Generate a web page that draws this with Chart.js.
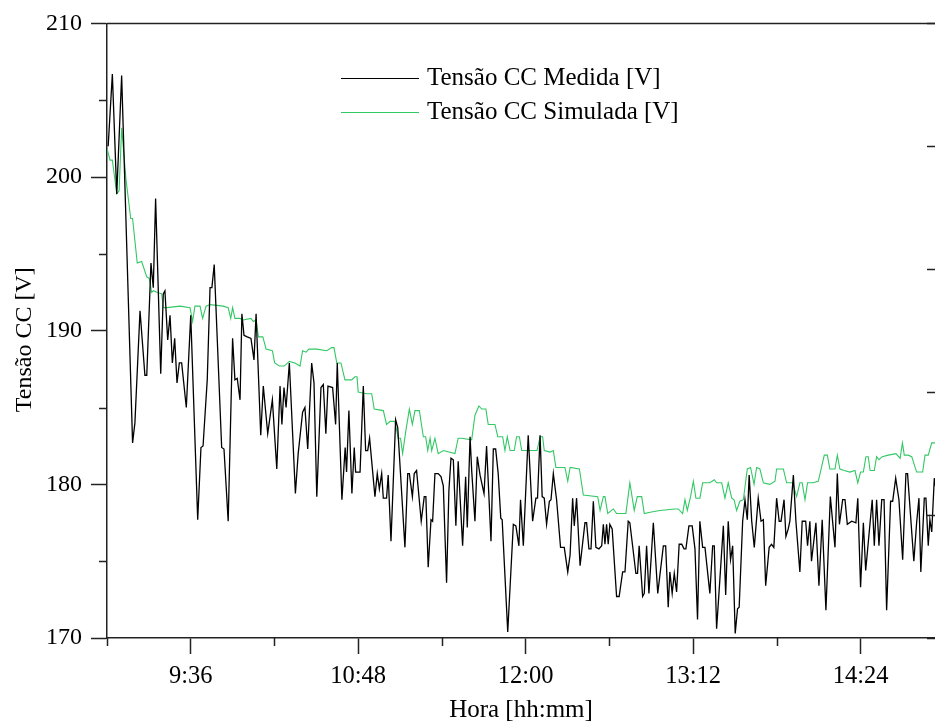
<!DOCTYPE html>
<html><head><meta charset="utf-8">
<script src="https://cdn.jsdelivr.net/npm/chart.js@4.4.1/dist/chart.umd.min.js"></script>
<style>html,body{margin:0;padding:0;background:#fff;overflow:hidden}</style>
</head><body>
<canvas id="c" width="935" height="725"></canvas>
<script>
// Time in minutes since midnight, voltage in V
const measuredLabel = 'Tensão CC Medida [V]';
const simulatedLabel = 'Tensão CC Simulada [V]';

const measuredTime = [
540.5,542.3,544.2,546.3,551.0,552.0,554.2,556.3,557.1,558.9,
559.9,560.9,563.1,564.2,564.9,566.1,567.1,568.1,569.1,570.1,
571.1,572.1,574.1,576.0,579.0,580.4,581.3,583.1,584.3,585.1,
586.1,589.3,590.3,592.1,594.0,595.0,596.0,597.2,598.0,598.9,
600.3,601.9,603.2,604.1,606.1,607.2,609.1,611.1,613.0,614.4,
615.2,616.1,617.0,618.4,621.0,622.2,624.1,625.1,626.3,628.0,
629.0,630.2,632.0,633.0,634.1,635.0,637.0,638.3,639.0,641.0,
642.4,643.0,644.0,645.3,646.3,646.9,648.8,650.2,651.2,652.1,
652.9,655.2,656.2,657.1,658.1,658.8,660.2,660.9,662.1,664.1,
665.0,668.1,669.3,670.0,671.3,672.1,673.1,675.1,676.4,677.1,
678.1,679.3,680.0,681.0,682.4,683.6,684.6,686.0,687.0,687.9,
688.9,690.0,691.0,692.9,694.2,694.9,696.1,696.8,698.2,699.2,
700.4,702.1,703.2,705.1,706.1,707.1,708.2,709.3,709.9,712.3,
714.7,715.8,717.1,717.8,719.0,721.1,723.0,724.4,725.1,726.2,
727.1,728.0,729.0,730.2,730.9,731.9,733.3,735.0,736.6,738.1,
739.1,740.2,740.9,741.9,743.4,745.5,746.2,747.2,748.1,749.1,
750.2,751.5,752.7,753.4,754.1,754.8,755.5,756.2,757.2,759.1,
760.2,761.7,762.7,764.1,764.8,767.4,768.1,768.8,770.3,771.0,
772.0,773.0,774.9,776.8,779.2,780.2,781.3,782.0,783.0,783.9,
784.9,786.0,787.1,788.1,788.9,790.2,791.6,792.8,793.9,794.9,
796.1,797.1,799.2,800.4,801.1,802.1,803.5,805.0,806.0,807.1,
808.1,809.0,810.1,811.1,811.8,813.3,814.3,815.3,816.1,817.2,
818.3,820.0,821.2,822.2,823.2,824.7,825.7,826.7,827.9,829.0,
829.8,831.1,831.9,832.9,833.6,835.1,836.2,837.9,838.9,840.4,
841.2,842.2,842.9,844.8,846.1,847.5,849.1,851.0,853.0,854.0,
854.9,856.3,857.3,858.3,860.2,862.0,862.8,864.0,865.2,866.2,
869.0,869.9,870.9,871.9,873.1,874.1,875.2,876.9,877.8,879.1,
880.5,882.1,883.5,884.2,886.9,888.1,889.1,889.9,891.4,892.1,
893.1,893.8,894.6,895.7,898.1];

const measuredV = [
202.0,206.7,198.9,206.6,182.7,184.0,191.3,187.1,187.1,194.4,
192.8,198.6,187.2,192.4,192.6,189.4,191.0,187.9,189.5,186.6,
187.9,187.9,185.0,191.0,177.7,182.4,182.5,186.8,192.8,192.8,
194.3,182.4,182.3,177.6,189.5,186.8,186.9,185.5,191.1,189.7,
189.6,189.5,188.1,191.1,183.2,186.4,183.3,185.5,181.0,186.4,
183.9,186.3,185.0,187.9,179.4,182.0,184.7,185.0,182.3,187.9,
186.6,179.2,186.3,186.5,183.3,186.4,186.3,183.9,187.9,179.0,
182.4,180.8,184.8,179.4,182.4,180.8,180.8,186.4,182.2,182.2,
183.0,179.2,180.7,179.7,180.7,179.1,179.1,180.6,176.3,184.2,
183.7,175.9,180.7,180.7,179.2,180.7,180.9,177.6,179.2,179.2,
174.6,177.7,177.6,180.7,180.7,180.5,179.9,173.6,179.6,181.7,
181.6,177.3,181.5,176.0,180.5,177.2,183.1,180.9,177.6,181.8,
180.6,179.4,182.5,176.3,182.3,182.3,180.7,177.8,177.7,170.4,
177.4,177.3,176.0,179.0,176.0,183.2,177.6,179.1,179.1,183.2,
179.2,179.1,177.4,178.9,179.0,180.7,179.0,175.9,175.9,174.3,
175.4,179.1,177.3,179.1,174.7,177.5,177.5,175.8,175.8,178.9,
175.9,175.8,176.0,177.4,176.1,177.4,176.1,177.4,177.1,172.7,
172.7,174.3,174.3,177.6,177.5,174.2,174.2,176.0,172.7,172.9,
176.0,172.9,177.5,172.9,176.0,176.0,172.0,174.3,172.9,174.2,
173.0,176.1,176.1,175.8,175.8,177.3,177.3,175.8,171.2,177.6,
175.9,175.9,172.9,176.0,176.0,170.6,173.8,177.3,172.8,177.6,
175.1,176.0,170.3,171.9,172.0,177.6,179.0,177.7,180.6,177.6,
175.9,179.1,177.6,177.7,173.4,175.9,176.1,175.9,179.1,177.6,
177.6,179.0,176.6,177.1,177.6,180.6,177.6,174.3,177.6,177.6,
176.0,177.6,175.0,177.5,173.4,177.7,171.8,179.2,175.9,180.7,
177.4,179.0,179.0,177.4,177.6,177.5,179.1,173.3,177.5,174.4,
179.0,176.0,179.0,176.0,179.0,179.0,171.8,178.9,178.9,180.4,
179.0,175.1,180.7,180.7,175.0,177.5,179.1,174.3,179.1,179.1,
176.0,177.7,176.9,180.4,178.0];

const simulatedTime = [
540.1,541.3,542.3,544.2,545.2,546.3,548.2,550.2,551.0,553.0,
554.9,557.1,558.2,559.2,559.9,561.4,563.5,564.2,565.7,571.4,
575.7,576.8,577.8,580.0,581.1,582.6,584.3,590.0,592.1,593.2,
594.0,595.0,597.2,598.6,601.9,602.9,604.1,605.1,607.0,608.4,
611.1,612.1,614.1,616.2,618.4,620.8,623.0,624.1,625.6,626.8,
630.2,634.5,636.6,637.6,638.8,640.6,642.3,645.2,646.6,647.5,
648.0,651.6,653.8,654.9,658.8,660.2,661.7,663.8,665.2,666.2,
667.1,668.5,670.0,671.3,672.4,674.3,676.0,677.0,677.9,678.9,
679.6,681.0,682.4,684.6,689.6,691.0,692.5,696.8,698.2,699.9,
701.1,702.9,703.9,706.8,708.0,710.1,711.1,712.1,713.3,715.1,
716.1,717.3,718.3,723.2,724.9,726.2,727.3,728.0,730.5,731.9,
733.0,736.9,738.1,739.1,743.1,744.8,751.0,752.0,753.4,754.1,
755.3,757.7,759.1,763.1,764.8,766.7,768.0,769.9,771.0,774.1,
777.7,784.2,785.6,787.5,788.5,789.5,790.9,792.1,793.2,794.9,
796.1,799.2,801.1,802.1,804.3,805.7,807.1,808.6,809.6,810.7,
812.1,813.6,815.3,816.7,818.2,819.3,820.7,822.2,825.0,827.2,
827.9,830.8,832.2,834.8,836.5,837.9,838.9,840.1,841.2,843.6,
845.8,847.2,848.4,849.7,850.8,853.0,854.0,855.1,857.0,859.4,
861.6,862.8,864.0,865.2,866.3,867.3,868.1,869.9,870.9,871.9,
873.3,875.9,879.2,881.0,882.0,882.8,884.4,886.0,888.1,890.7,
891.7,893.1,894.6,896.0];

const simulatedV = [
201.8,201.1,201.1,198.9,199.1,203.2,199.8,197.3,197.3,194.4,
194.5,193.5,193.4,192.5,192.6,192.5,192.4,191.5,191.5,191.6,
191.5,190.6,191.6,191.6,190.8,191.6,191.7,191.6,191.5,190.8,
191.5,190.8,190.8,190.7,190.8,190.6,190.7,189.6,189.6,188.8,
188.7,187.9,187.7,187.7,188.0,187.9,187.7,188.7,188.6,188.8,
188.8,188.7,188.9,188.9,187.9,187.9,186.8,186.8,187.0,187.0,
186.0,185.9,185.9,184.9,184.8,183.9,184.1,184.1,183.0,183.0,
182.0,183.5,184.9,183.9,184.8,184.8,183.1,183.1,182.2,183.0,
182.2,183.0,182.0,182.2,182.0,183.0,183.0,182.9,184.5,185.1,
184.9,184.9,183.9,183.9,183.1,183.1,182.2,183.1,182.2,182.2,
183.1,183.1,182.2,182.2,182.2,183.1,183.1,182.2,182.1,182.2,
181.1,181.1,180.2,181.1,181.0,179.3,179.2,178.3,179.2,179.2,
178.1,178.4,178.1,178.1,180.1,178.3,179.2,179.2,178.1,178.2,
178.3,178.4,178.4,178.1,179.0,178.3,179.2,180.2,179.1,179.1,
180.1,180.1,180.3,180.1,180.1,179.1,180.1,179.1,179.0,178.3,
178.9,179.0,181.0,181.1,180.0,181.1,181.0,180.1,180.0,180.2,
181.0,181.0,180.1,180.1,179.2,180.1,180.1,179.0,180.1,180.1,
180.2,181.1,181.9,181.9,181.0,181.0,181.9,181.0,180.9,180.8,
180.9,180.1,180.8,180.8,181.8,181.8,180.9,180.9,181.8,181.6,
181.8,181.9,182.0,181.7,182.7,181.9,181.9,181.8,180.8,180.8,
181.9,181.9,182.7,182.7];

// Axis ticks
const xMajorTicks = [576, 648, 720, 792, 864];      // 9:36 ... 14:24
const xMinorTicks = [540, 612, 684, 756, 828];
const yMajorTicks = [170, 180, 190, 200, 210];
const yMinorTicks = [175, 185, 195, 205];
const yRightTicks = [170, 178, 186, 194, 202, 210];
const xMin = 540, xMax = 896, yMin = 170, yMax = 210;

const FONT = "'Liberation Serif', 'Times New Roman', serif";
const AXIS = '#222';

function fmtTime(v) {
  const h = Math.floor(v / 60), m = Math.round(v - h * 60);
  return h + ':' + String(m).padStart(2, '0');
}

const toPoints = (xs, ys) => xs.map((x, i) => ({ x: x, y: ys[i] }));

const decorPlugin = {
  id: 'decor',
  afterDraw(chart) {
    const ctx = chart.ctx, a = chart.chartArea;
    const xs = chart.scales.x, ys = chart.scales.y;
    ctx.save();
    ctx.strokeStyle = AXIS;
    ctx.lineWidth = 1.5;
    // top frame line
    ctx.beginPath();
    ctx.moveTo(a.left, a.top); ctx.lineTo(a.right + 2, a.top);
    ctx.stroke();
    // minor ticks
    ctx.beginPath();
    xMinorTicks.forEach(v => { const p = Math.round(xs.getPixelForValue(v)) + 0.5; ctx.moveTo(p, a.bottom); ctx.lineTo(p, a.bottom + 8); });
    yMinorTicks.forEach(v => { const p = Math.round(ys.getPixelForValue(v)) + 0.5; ctx.moveTo(a.left, p); ctx.lineTo(a.left - 8, p); });
    yRightTicks.forEach(v => { const p = Math.round(ys.getPixelForValue(v)) + 0.5; ctx.moveTo(a.right, p); ctx.lineTo(a.right - 8, p); });
    ctx.stroke();
    // legend inside plot
    const items = chart.data.datasets;
    ctx.font = '25px ' + FONT;
    ctx.textBaseline = 'middle';
    ctx.textAlign = 'left';
    items.forEach((ds, i) => {
      const y = 78 + i * 34;
      ctx.strokeStyle = ds.borderColor;
      ctx.lineWidth = 1.2;
      ctx.beginPath(); ctx.moveTo(341, y + 0.5); ctx.lineTo(419, y + 0.5); ctx.stroke();
      ctx.fillStyle = '#000';
      ctx.fillText(ds.label, 427, y);
    });
    ctx.restore();
  }
};

new Chart(document.getElementById('c'), {
  type: 'line',
  data: {
    datasets: [
      { label: measuredLabel, data: toPoints(measuredTime, measuredV), borderColor: '#000000', borderWidth: 1.3, pointRadius: 0, tension: 0 },
      { label: simulatedLabel, data: toPoints(simulatedTime, simulatedV), borderColor: 'rgb(50,200,100)', borderWidth: 1.1, pointRadius: 0, tension: 0 }
    ]
  },
  options: {
    responsive: false,
    devicePixelRatio: 1,
    animation: false,
    layout: { padding: { top: 22, left: 0, right: 0, bottom: 0 } },
    plugins: { legend: { display: false }, tooltip: { enabled: false } },
    scales: {
      x: {
        type: 'linear', min: xMin, max: xMax,
        afterBuildTicks: s => { s.ticks = xMajorTicks.map(v => ({ value: v })); },
        afterFit: s => { s.height = 87; },
        grid: { drawOnChartArea: false, tickLength: 16, tickColor: AXIS, tickWidth: 1.5 },
        border: { color: AXIS, width: 1.5 },
        ticks: { callback: v => fmtTime(v), font: { family: FONT, size: 24.5 }, color: '#000', padding: 8, maxRotation: 0, autoSkip: false },
        title: { display: true, text: 'Hora [hh:mm]', font: { family: FONT, size: 25 }, color: '#000', padding: { top: 0, bottom: 0 } }
      },
      y: {
        min: yMin, max: yMax,
        afterBuildTicks: s => { s.ticks = yMajorTicks.map(v => ({ value: v })); },
        afterFit: s => { s.width = 107; },
        grid: { drawOnChartArea: false, tickLength: 16, tickColor: AXIS, tickWidth: 1.5 },
        border: { color: AXIS, width: 1.5 },
        ticks: { callback: v => String(v), font: { family: FONT, size: 24 }, color: '#000', padding: 9 },
        title: { display: true, text: 'Tensão CC [V]   ', font: { family: FONT, size: 24 }, color: '#000', padding: { top: 10, bottom: 0 } }
      }
    }
  },
  plugins: [decorPlugin]
});
</script>
</body></html>
